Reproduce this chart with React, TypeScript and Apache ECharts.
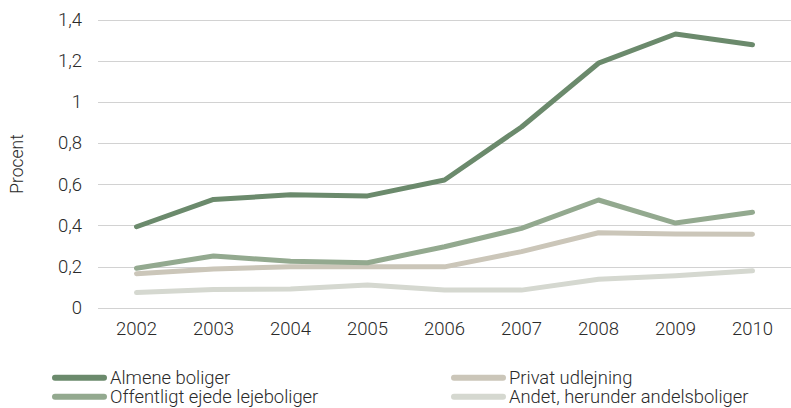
import React, { useEffect, useRef } from "react";
import * as echarts from "echarts";

const years = ["2002", "2003", "2004", "2005", "2006", "2007", "2008", "2009", "2010"];
const almene = [0.395, 0.528, 0.55, 0.545, 0.622, 0.88, 1.19, 1.332, 1.28];
const offentligt = [0.193, 0.253, 0.227, 0.22, 0.298, 0.387, 0.525, 0.413, 0.465];
const privat = [0.167, 0.19, 0.2, 0.2, 0.2, 0.274, 0.366, 0.36, 0.358];
const andet = [0.075, 0.09, 0.092, 0.112, 0.087, 0.087, 0.14, 0.157, 0.181];

const names = ["Almene boliger", "Offentligt ejede lejeboliger", "Privat udlejning", "Andet, herunder andelsboliger"];
const colors = ["#6b8a6c", "#93a98f", "#cbc6b9", "#d5d8d0"];
const seriesData = [almene, offentligt, privat, andet];

const FONT = "Roboto";
const TEXT = "#2a2a2a";
const ICON = "path://M3,0 L52,0 A3,3 0 0 1 52,6 L3,6 A3,3 0 0 1 3,0 Z";

export default function App() {
  const ref = useRef<HTMLDivElement>(null);
  useEffect(() => {
    if (!ref.current) return;
    const chart = echarts.init(ref.current, null, { renderer: "svg" });
    const legendPos = [
      { left: 52, top: 368.5 },
      { left: 52, top: 387.5 },
      { left: 451, top: 368.5 },
      { left: 451, top: 387.5 },
    ];
    chart.setOption({
      animation: false,
      backgroundColor: "#ffffff",
      grid: { left: 98, top: 20, width: 698, height: 288, containLabel: false },
      xAxis: {
        type: "category",
        data: years,
        boundaryGap: true,
        axisLine: { show: false },
        axisTick: { show: false },
        axisLabel: { fontFamily: FONT, fontSize: 18.5, fontWeight: 300, color: TEXT, margin: 11 },
      },
      yAxis: {
        type: "value",
        min: 0,
        max: 1.4,
        interval: 0.2,
        name: "Procent",
        nameLocation: "middle",
        nameRotate: 90,
        nameGap: 72,
        nameTextStyle: { fontFamily: FONT, fontSize: 17.5, fontWeight: 300, color: TEXT },
        axisLine: { show: false },
        axisTick: { show: false },
        axisLabel: {
          fontFamily: FONT,
          fontSize: 18.5,
          fontWeight: 300,
          color: TEXT,
          margin: 16,
          formatter: (v: number) => String(Math.round(v * 10) / 10).replace(".", ","),
        },
        splitLine: { lineStyle: { color: "#d2d2d2", width: 1.2 } },
      },
      legend: names.map((n, i) => ({
        data: [{ name: n, icon: ICON }],
        left: legendPos[i].left,
        top: legendPos[i].top,
        padding: 0,
        itemWidth: 55,
        itemHeight: 6,
        symbolKeepAspect: false,
        itemGap: 0,
        selectedMode: false,
        textStyle: { fontFamily: FONT, fontSize: 18.4, fontWeight: 300, color: TEXT, padding: [0, 0, 0, -2], lineHeight: 18.4 },
      })),
      series: seriesData.map((d, i) => ({
        name: names[i],
        type: "line",
        data: d,
        symbol: "none",
        z: 10 - i,
        lineStyle: { color: colors[i], width: 5, cap: "round", join: "round" },
        itemStyle: { color: colors[i] },
      })),
    });
    return () => chart.dispose();
  }, []);
  return <div ref={ref} style={{ position: "fixed", left: 0, top: 0, width: 791, height: 408 }} />;
}
